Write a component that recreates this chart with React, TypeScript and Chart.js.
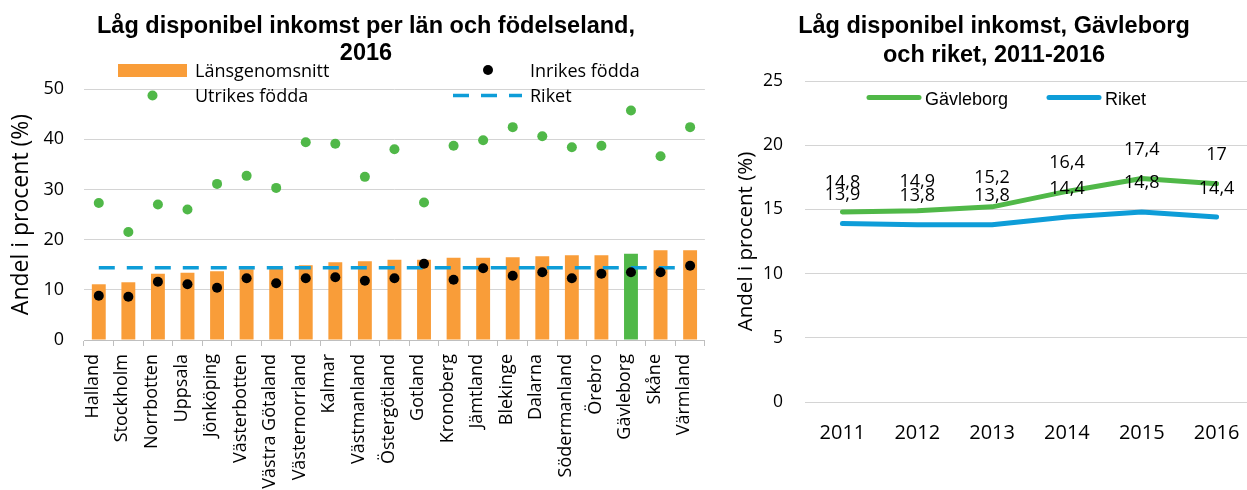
import React, { useEffect, useRef } from 'react';
import { Chart, registerables } from 'chart.js';

Chart.register(...registerables);

// ---------- Left chart data ----------
const counties = [
  'Halland', 'Stockholm', 'Norrbotten', 'Uppsala', 'Jönköping', 'Västerbotten',
  'Västra Götaland', 'Västernorrland', 'Kalmar', 'Västmanland', 'Östergötland',
  'Gotland', 'Kronoberg', 'Jämtland', 'Blekinge', 'Dalarna', 'Södermanland',
  'Örebro', 'Gävleborg', 'Skåne', 'Värmland',
];
const lansgenomsnitt = [11.1, 11.5, 13.2, 13.4, 13.7, 14.1, 14.4, 14.9, 15.5, 15.7, 16.0, 16.0, 16.4, 16.4, 16.5, 16.7, 16.9, 16.9, 17.2, 17.9, 17.9];
const inrikesFodda = [8.8, 8.6, 11.6, 11.1, 10.4, 12.3, 11.3, 12.3, 12.5, 11.8, 12.3, 15.2, 12.0, 14.3, 12.8, 13.5, 12.3, 13.2, 13.5, 13.5, 14.8];
const utrikesFodda = [27.3, 21.5, 27.0, 26.0, 31.1, 32.7, 30.3, 39.4, 39.1, 32.5, 38.0, 27.4, 38.7, 39.8, 42.4, 40.6, 38.4, 38.7, 45.7, 36.6, 42.4];
const riketLevel = [14.4, 14.4, 14.4, 14.4, 14.4, 14.4, 14.4, 14.4, 14.4, 14.4, 14.4, 14.4, 14.4, 14.4, 14.4, 14.4, 14.4, 14.4, 14.4, 14.4, 14.4];
const highlightedCounty = 'Gävleborg';
const leftTitle = ['Låg disponibel inkomst per län och födelseland,', '2016'];

// ---------- Right chart data ----------
const years = ['2011', '2012', '2013', '2014', '2015', '2016'];
const gavleborgSeries = [14.8, 14.9, 15.2, 16.4, 17.4, 17.0];
const riketSeries = [13.9, 13.8, 13.8, 14.4, 14.8, 14.4];
const rightTitle = ['Låg disponibel inkomst, Gävleborg', 'och riket, 2011-2016'];
const yTitle = 'Andel i procent (%)';

// ---------- Styles ----------
const ORANGE = '#F99D39';
const GREEN = '#50B848';
const BLUE = '#0E9DD8';
const BLACK = '#000000';
const GRID = '#D4D4D4';
const AXIS = '#BFBFBF';
const SANS = '"Open Sans", sans-serif';
const ARIAL = '"Liberation Sans", Arial, sans-serif';

const fmt = (v: number) => String(v).replace('.', ',');

const leftDecor = {
  id: 'leftDecor',
  afterDraw(chart: any) {
    const ctx = chart.ctx as CanvasRenderingContext2D;
    ctx.save();
    ctx.fillStyle = '#000';
    ctx.textAlign = 'center';
    ctx.textBaseline = 'alphabetic';
    ctx.font = `bold 23.5px ${ARIAL}`;
    ctx.fillText(leftTitle[0], 366, 33);
    ctx.fillText(leftTitle[1], 366, 60);

    // legend
    ctx.textAlign = 'left';
    ctx.font = `18px ${SANS}`;
    ctx.fillStyle = ORANGE;
    ctx.fillRect(118, 64, 69, 13);
    ctx.fillStyle = '#000';
    ctx.fillText('Länsgenomsnitt', 195, 77);

    ctx.fillStyle = GREEN;
    ctx.beginPath();
    ctx.arc(152.5, 95.5, 5, 0, Math.PI * 2);
    ctx.fill();
    ctx.fillStyle = '#000';
    ctx.fillText('Utrikes födda', 195, 102);

    ctx.fillStyle = BLACK;
    ctx.beginPath();
    ctx.arc(488, 70, 5, 0, Math.PI * 2);
    ctx.fill();
    ctx.fillStyle = '#000';
    ctx.fillText('Inrikes födda', 530, 77);

    ctx.strokeStyle = BLUE;
    ctx.lineWidth = 3.5;
    ctx.setLineDash([16, 12]);
    ctx.beginPath();
    ctx.moveTo(453, 95.5);
    ctx.lineTo(522, 95.5);
    ctx.stroke();
    ctx.setLineDash([]);
    ctx.fillStyle = '#000';
    ctx.fillText('Riket', 530, 102);
    ctx.restore();
  },
};

const rightDecor = {
  id: 'rightDecor',
  afterDatasetsDraw(chart: any) {
    const ctx = chart.ctx as CanvasRenderingContext2D;
    ctx.save();
    ctx.fillStyle = '#000';
    ctx.textAlign = 'center';
    ctx.textBaseline = 'alphabetic';
    ctx.font = `18px ${SANS}`;
    [0, 1].forEach((di) => {
      const meta = chart.getDatasetMeta(di);
      const values = chart.data.datasets[di].data as number[];
      meta.data.forEach((pt: any, i: number) => {
        ctx.fillText(fmt(values[i]), pt.x, pt.y - 23.5);
      });
    });
    ctx.restore();
  },
  afterDraw(chart: any) {
    const ctx = chart.ctx as CanvasRenderingContext2D;
    ctx.save();
    ctx.fillStyle = '#000';
    ctx.textAlign = 'center';
    ctx.textBaseline = 'alphabetic';
    ctx.font = `bold 23.5px ${ARIAL}`;
    ctx.fillText(rightTitle[0], 274, 33);
    ctx.fillText(rightTitle[1], 274, 61.5);

    ctx.lineCap = 'round';
    ctx.lineWidth = 5;
    ctx.strokeStyle = GREEN;
    ctx.beginPath();
    ctx.moveTo(149, 97.5);
    ctx.lineTo(199, 97.5);
    ctx.stroke();
    ctx.strokeStyle = BLUE;
    ctx.beginPath();
    ctx.moveTo(329, 97.5);
    ctx.lineTo(379, 97.5);
    ctx.stroke();

    ctx.textAlign = 'left';
    ctx.font = `18px ${ARIAL}`;
    ctx.fillText('Gävleborg', 205, 104.5);
    ctx.fillText('Riket', 385, 104.5);
    ctx.restore();
  },
};

function LeftChart() {
  const ref = useRef<HTMLCanvasElement>(null);
  useEffect(() => {
    const chart = new Chart(ref.current as HTMLCanvasElement, {
      type: 'bar',
      data: {
        labels: counties,
        datasets: [
          {
            type: 'line', label: 'Inrikes födda', data: inrikesFodda, showLine: false,
            pointRadius: 5, pointBackgroundColor: BLACK, pointBorderColor: BLACK, pointBorderWidth: 0, order: 1,
          } as any,
          {
            type: 'line', label: 'Utrikes födda', data: utrikesFodda, showLine: false,
            pointRadius: 5, pointBackgroundColor: GREEN, pointBorderColor: GREEN, pointBorderWidth: 0, order: 2,
          } as any,
          {
            type: 'line', label: 'Riket', data: riketLevel, borderColor: BLUE, borderWidth: 3.5,
            borderDash: [16, 12], pointRadius: 0, fill: false, order: 3,
          } as any,
          {
            type: 'bar', label: 'Länsgenomsnitt', data: lansgenomsnitt,
            backgroundColor: counties.map((c) => (c === highlightedCounty ? GREEN : ORANGE)),
            barPercentage: 0.47, categoryPercentage: 1, order: 4,
          } as any,
        ],
      },
      options: {
        responsive: false,
        animation: false,
        events: [],
        layout: { padding: { top: 89, left: 0, right: 12, bottom: 0 } },
        plugins: { legend: { display: false }, tooltip: { enabled: false }, title: { display: false } },
        scales: {
          x: {
            offset: true,
            grid: { display: true, drawOnChartArea: false, drawTicks: true, tickLength: 6, color: AXIS, offset: true },
            border: { display: true, color: AXIS, width: 1 },
            ticks: {
              autoSkip: false, maxRotation: 90, minRotation: 90, padding: 8, labelOffset: -6,
              color: '#000', font: { family: SANS, size: 18 },
            },
            afterFit: (s: any) => { s.height = 150; },
          },
          y: {
            min: 0, max: 50,
            ticks: { stepSize: 10, padding: 20, color: '#000', font: { family: SANS, size: 18 } },
            grid: { color: GRID, drawTicks: false },
            border: { display: false },
            title: { display: true, text: yTitle, color: '#000', font: { family: SANS, size: 23 }, padding: { top: 8, bottom: 0 } },
            afterFit: (s: any) => { s.width = 84; },
          },
        },
      } as any,
      plugins: [leftDecor],
    });
    return () => chart.destroy();
  }, []);
  return (
    <canvas ref={ref} width={720} height={490}
      style={{ position: 'absolute', left: 0, top: 0, width: 720, height: 490 }} />
  );
}

function RightChart() {
  const ref = useRef<HTMLCanvasElement>(null);
  useEffect(() => {
    const chart = new Chart(ref.current as HTMLCanvasElement, {
      type: 'line',
      data: {
        labels: years,
        datasets: [
          {
            label: 'Gävleborg', data: gavleborgSeries, borderColor: GREEN, borderWidth: 5,
            pointRadius: 0, tension: 0, fill: false, borderCapStyle: 'round', borderJoinStyle: 'round',
          } as any,
          {
            label: 'Riket', data: riketSeries, borderColor: BLUE, borderWidth: 5,
            pointRadius: 0, tension: 0, fill: false, borderCapStyle: 'round', borderJoinStyle: 'round',
          } as any,
        ],
      },
      options: {
        responsive: false,
        animation: false,
        events: [],
        layout: { padding: { top: 81, left: 0, right: 6, bottom: 0 } },
        plugins: { legend: { display: false }, tooltip: { enabled: false }, title: { display: false } },
        scales: {
          x: {
            offset: true,
            grid: { display: false },
            border: { display: false },
            ticks: { padding: 11, color: '#000', font: { family: SANS, size: 20 }, maxRotation: 0 },
            afterFit: (s: any) => { s.height = 88; },
          },
          y: {
            min: 0, max: 25,
            ticks: { stepSize: 5, padding: 22, color: '#000', font: { family: SANS, size: 17.5 } },
            grid: { color: GRID, drawTicks: false },
            border: { display: false },
            title: { display: true, text: yTitle, color: '#000', font: { family: SANS, size: 20.5 }, padding: { top: 14, bottom: 0 } },
            afterFit: (s: any) => { s.width = 85; },
          },
        },
      } as any,
      plugins: [rightDecor],
    });
    return () => chart.destroy();
  }, []);
  return (
    <canvas ref={ref} width={540} height={490}
      style={{ position: 'absolute', left: 720, top: 0, width: 540, height: 490 }} />
  );
}

export default function App() {
  return (
    <div style={{ position: 'fixed', left: 0, top: 0, width: 1247, height: 490, overflow: 'hidden', background: '#fff' }}>
      <LeftChart />
      <RightChart />
    </div>
  );
}
